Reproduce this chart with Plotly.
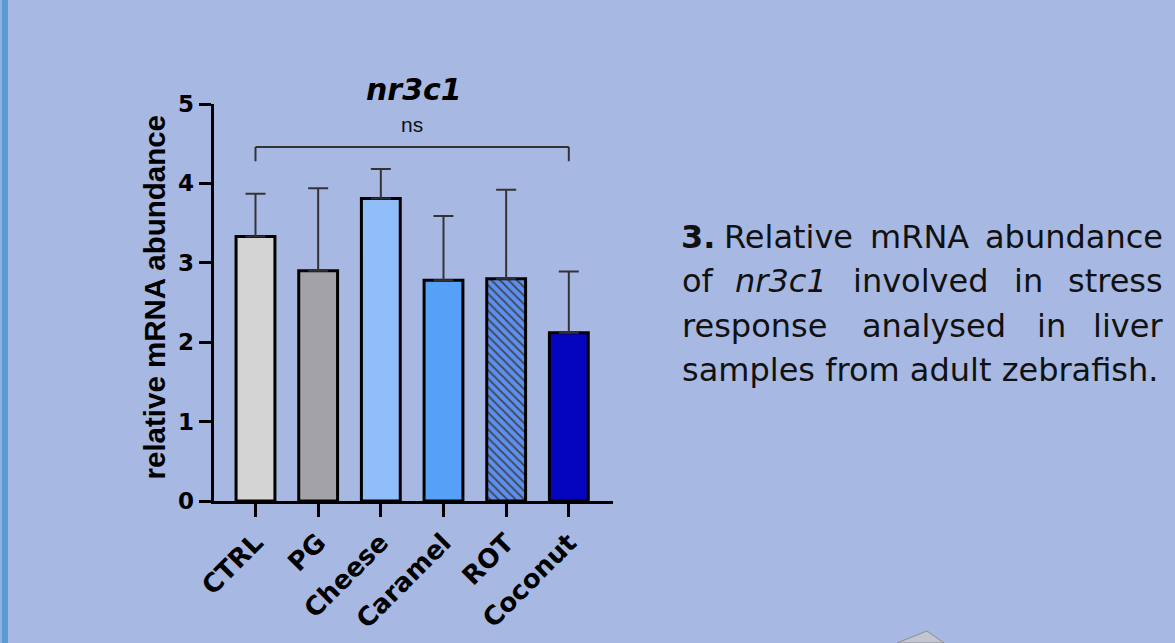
import plotly.graph_objects as go

# ---------------- data ----------------
categories = ["CTRL", "PG", "Cheese", "Caramel", "ROT", "Coconut"]
means = [3.33, 2.90, 3.81, 2.78, 2.80, 2.12]
sd = [0.54, 1.04, 0.37, 0.81, 1.12, 0.77]
bar_colors = ["#d4d4d4", "#a3a3a7", "#90bef8", "#57a0f8", "#5b8ff2", "#0505c0"]
patterns = ["", "", "", "", "\\", ""]
y_ticks = [0, 1, 2, 3, 4, 5]
chart_title = "nr3c1"
y_title = "relative mRNA abundance"
sig_label = "ns"
bracket_y = 4.46
bracket_drop = 4.28

W, H = 1175, 643
BG = "#a7b9e3"

def px(x):
    return x / W

def py(y):
    return 1 - y / H

fig = go.Figure()
fig.add_trace(go.Bar(
    x=categories, y=means, width=0.62,
    marker=dict(color=bar_colors, line=dict(color="black", width=3),
                pattern=dict(shape=patterns, fgcolor="#6a2a9c", fgopacity=1,
                             size=6, solidity=0.3, fillmode="overlay")),
    error_y=dict(type="data", symmetric=False, array=sd, arrayminus=[0] * len(sd),
                 color="#333333", thickness=2, width=10),
    showlegend=False,
))

# significance bracket
fig.add_shape(type="line", xref="x", yref="y", x0=categories[0], x1=categories[-1],
              y0=bracket_y, y1=bracket_y, line=dict(color="#333333", width=2))
for c in (categories[0], categories[-1]):
    fig.add_shape(type="line", xref="x", yref="y", x0=c, x1=c,
                  y0=bracket_drop, y1=bracket_y, line=dict(color="#333333", width=2))

annotations = [
    dict(text=sig_label, xref="x", yref="y", x=2.5, y=4.74, showarrow=False,
         xanchor="center", yanchor="middle",
         font=dict(family="Liberation Sans", size=21, color="#111111")),
    dict(text="<b><i>%s</i></b>" % chart_title, xref="paper", yref="paper",
         x=px(413.5), y=py(90), showarrow=False, xanchor="center", yanchor="middle",
         font=dict(family="DejaVu Sans", size=30, color="black")),
    dict(text="<b>%s</b>" % y_title, xref="paper", yref="paper", x=px(154.5), y=py(297),
         textangle=-90, showarrow=False, xanchor="center", yanchor="middle",
         font=dict(family="Liberation Sans", size=29.5, color="black")),
]

# right-hand caption (lines 1-3 justified word by word, last line natural)
cap_font = dict(family="DejaVu Sans", size=32, color="#111111")
caption_lines = [
    (237, [("<b>3.</b>", "left", 679), ("Relative", "center", 788.5),
           ("mRNA", "center", 919), ("abundance", "right", 1165)]),
    (281, [("of", "left", 680), ("<i>nr3c1</i>", "center", 781),
           ("involved", "center", 921), ("in", "center", 1028.5), ("stress", "right", 1165)]),
    (326, [("response", "left", 680), ("analysed", "center", 933.5),
           ("in", "center", 1051.5), ("liver", "right", 1165)]),
    (370, [("samples from adult zebrafish.", "left", 680)]),
]
for yc, words in caption_lines:
    for txt, anc, xx in words:
        annotations.append(dict(text=txt, xref="paper", yref="paper", x=px(xx), y=py(yc),
                                showarrow=False, xanchor=anc, yanchor="middle", font=cap_font))

shapes = [
    dict(type="rect", xref="paper", yref="paper", x0=0, x1=px(2), y0=0, y1=1,
         fillcolor="#8fb2e3", line=dict(width=0), layer="below"),
    dict(type="rect", xref="paper", yref="paper", x0=px(2), x1=px(8), y0=0, y1=1,
         fillcolor="#5b9bd5", line=dict(width=0), layer="below"),
    dict(type="path", xref="paper", yref="paper",
         path="M %f,%f L %f,%f L %f,%f Z" % (px(897), py(643), px(927), py(631), px(944), py(643)),
         fillcolor="#c3c6cf", line=dict(color="#8a8e98", width=1)),
]

fig.update_layout(
    width=W, height=H,
    margin=dict(l=0, r=0, t=0, b=0, pad=0, autoexpand=False),
    paper_bgcolor=BG, plot_bgcolor=BG,
    annotations=annotations,
    shapes=fig.layout.shapes + tuple(shapes),
    xaxis=dict(domain=[px(213.5), px(612.7)], range=[-0.67, 5.70], type="category",
               automargin=False,
               showgrid=False, zeroline=False, showline=True, linecolor="black", linewidth=3,
               ticks="outside", ticklen=13, tickwidth=3, tickcolor="black", tickangle=-45,
               tickfont=dict(family="DejaVu Sans", size=26, color="black", weight="bold")),
    yaxis=dict(domain=[py(501), py(104)], range=[0, 5], tickvals=y_ticks,
               automargin=False,
               showgrid=False, zeroline=False, showline=True, linecolor="black", linewidth=3,
               ticks="outside", ticklen=12, tickwidth=3, tickcolor="black",
               tickfont=dict(family="DejaVu Sans", size=23, color="black", weight="bold")),
)

css_fix = (
    "var s=document.createElement('style');"
    "s.innerHTML='html,body{margin:0;padding:0;overflow:hidden;background:%s}';"
    "document.head.appendChild(s);" % BG
)

fig.write_html("out.html", config={"displayModeBar": False}, post_script=css_fix)
